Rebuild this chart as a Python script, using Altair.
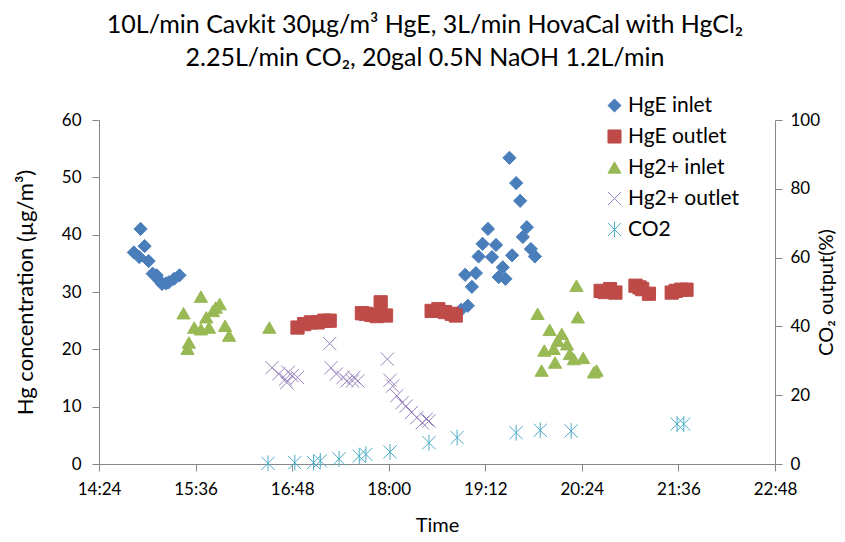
import altair as alt
import pandas as pd

# ---- data ----
names = ["HgE inlet", "HgE outlet", "Hg2+ inlet", "Hg2+ outlet", "CO2"]

hge_in_time = ["14:50", "14:54", "14:55", "14:58", "15:01", "15:04", "15:07", "15:09", "15:11",
               "15:14", "15:16", "15:20", "15:24",
               "18:54", "18:57", "18:59", "19:02", "19:05", "19:07", "19:10", "19:14", "19:17",
               "19:20", "19:22", "19:25", "19:27", "19:30", "19:32", "19:35", "19:38", "19:40",
               "19:43", "19:46", "19:49"]
hge_in_val = [36.9, 36.1, 41.0, 38.0, 35.4, 33.2, 32.9, 32.0, 31.4, 31.5, 31.7, 32.3, 32.9,
              26.9, 33.0, 27.6, 30.9, 33.3, 36.2, 38.4, 41.0, 36.1, 38.2, 32.6, 34.3, 32.3,
              53.4, 36.4, 49.0, 45.9, 39.6, 41.3, 37.5, 36.2]

hge_out_time = ["16:52", "16:57", "17:02", "17:07", "17:12", "17:16",
                "17:40", "17:43", "17:47", "17:51", "17:54", "17:58",
                "18:32", "18:37", "18:42", "18:47", "18:50",
                "20:38", "20:41", "20:45", "20:49",
                "21:04", "21:07", "21:09", "21:14",
                "21:31", "21:34", "21:38", "21:42"]
hge_out_val = [23.8, 24.4, 24.7, 24.7, 25.0, 25.0,
               26.3, 26.2, 26.0, 25.8, 28.2, 25.9,
               26.7, 27.0, 26.5, 26.2, 25.9,
               30.2, 30.0, 30.5, 29.9,
               31.1, 30.8, 30.5, 29.7,
               29.9, 30.2, 30.4, 30.4]

hg2_in_time = ["15:27", "15:30", "15:31", "15:35", "15:40", "15:40", "15:44", "15:46", "15:49",
               "15:51", "15:54", "15:58", "16:01", "16:31",
               "19:51", "19:54", "19:56", "20:00", "20:03", "20:04", "20:06", "20:09", "20:13",
               "20:15", "20:18", "20:20", "20:21", "20:25", "20:33", "20:35"]
hg2_in_val = [26.3, 20.1, 21.2, 23.8, 29.2, 23.5, 25.6, 23.8, 26.7, 27.3, 27.9, 24.1, 22.4, 23.8,
              26.2, 16.3, 19.8, 23.4, 20.1, 17.7, 21.5, 22.7, 20.9, 19.2, 18.3, 31.1, 25.6, 18.5,
              16.0, 16.3]

hg2_out_time = ["16:33", "16:38", "16:43", "16:44", "16:45", "16:48", "16:52",
                "17:16", "17:17", "17:21", "17:26", "17:29", "17:33", "17:34", "17:37",
                "17:59", "18:01", "18:03", "18:06", "18:10", "18:13", "18:17", "18:21", "18:25",
                "18:28", "18:30"]
hg2_out_val = [16.8, 15.7, 14.8, 14.2, 16.0, 15.4, 15.1,
               21.0, 16.8, 15.7, 15.1, 14.5, 14.5, 15.1, 14.5,
               18.3, 14.6, 13.6, 11.9, 10.7, 10.1, 9.0, 8.1, 7.2, 7.8, 7.5]

co2_time = ["16:30", "16:50", "17:04", "17:09", "17:23", "17:38", "17:43", "18:01", "18:30",
            "18:51", "19:35", "19:53", "20:16", "21:35", "21:40"]
co2_val = [0.2, 0.4, 0.4, 0.9, 1.5, 2.3, 2.8, 3.5, 6.2, 7.7, 9.1, 9.8, 9.6, 11.6, 11.6]

x_tick_labels = ["14:24", "15:36", "16:48", "18:00", "19:12", "20:24", "21:36", "22:48"]
left_ticks = [0, 10, 20, 30, 40, 50, 60]
right_ticks = [0, 20, 40, 60, 80, 100]


def to_min(s):
    h, m = s.split(":")
    return int(h) * 60 + int(m)


rows = []
for name, ts, vs in [(names[0], hge_in_time, hge_in_val), (names[1], hge_out_time, hge_out_val),
                     (names[2], hg2_in_time, hg2_in_val), (names[3], hg2_out_time, hg2_out_val),
                     (names[4], co2_time, co2_val)]:
    for t, v in zip(ts, vs):
        rows.append({"s": name, "t": to_min(t), "v": v})
df = pd.DataFrame(rows)
hg = df[df.s != "CO2"]
co2 = df[df.s == "CO2"]

x_vals = [to_min(s) for s in x_tick_labels]

# ---- styles ----
FONT = "Lato"
BLUE, RED, GREEN, PURPLE, CYAN = "#4A7EBB", "#BE4B48", "#98B954", "#9883BE", "#4BACC6"
X_PATH = "M-1,-1L1,1M-1,1L1,-1"
AST_PATH = "M-1,-1L1,1M-1,1L1,-1M0,-1.2L0,1.2"
shapes = ["diamond", "square", "triangle-up", X_PATH, AST_PATH]
fills = [BLUE, RED, GREEN, "transparent", "transparent"]
strokes = [BLUE, RED, GREEN, PURPLE, CYAN]
AX = "#868686"

leg = alt.Legend(title=None, orient="none", legendX=505, legendY=-25, labelFont=FONT,
                 labelFontSize=21, labelColor="#000000", symbolSize=170, symbolStrokeWidth=1,
                 rowPadding=9, labelOffset=3, padding=0)

fill_enc = alt.Fill("s:N", scale=alt.Scale(domain=names, range=fills), legend=leg)
stroke_enc = alt.Stroke("s:N", scale=alt.Scale(domain=names, range=strokes), legend=leg)
shape_enc = alt.Shape("s:N", scale=alt.Scale(domain=names, range=shapes), legend=leg)

label_expr = "floor(datum.value/60) + ':' + (datum.value % 60 < 10 ? '0' : '') + (datum.value % 60)"

x_enc = alt.X("t:Q", scale=alt.Scale(domain=[x_vals[0], x_vals[-1]], nice=False, zero=False),
              axis=alt.Axis(values=x_vals, labelExpr=label_expr, title="Time", grid=False,
                            labelFlush=False, labelPadding=10, titleFontSize=20,
                            titleX=338, titleY=61, titleBaseline="middle", titleAlign="center"))

common_axis = dict(grid=False, domainColor=AX, tickColor=AX, tickSize=7, labelFont=FONT,
                   labelFontSize=17, labelColor="#000000", titleFont=FONT,
                   titleFontWeight="normal", titleColor="#000000")

hg_layer = alt.Chart(hg).mark_point(opacity=1, strokeWidth=1, size=175).encode(
    x=x_enc,
    y=alt.Y("v:Q", scale=alt.Scale(domain=[0, 60], nice=False),
            axis=alt.Axis(values=left_ticks, title="Hg concentration (µg/m³)", orient="left",
                          titleAngle=270, titleX=-74, titleY=172, titleBaseline="middle",
                          titleAlign="center", labelPadding=11, titleFontSize=22)),
    fill=fill_enc, stroke=stroke_enc, shape=shape_enc,
)

co2_layer = alt.Chart(co2).mark_point(opacity=1, strokeWidth=1, size=175).encode(
    x=x_enc,
    y=alt.Y("v:Q", scale=alt.Scale(domain=[0, 100], nice=False),
            axis=alt.Axis(values=right_ticks, title="CO₂ output(%)", orient="right",
                          titleAngle=270, titleX=51, titleY=172, titleBaseline="middle",
                          titleAlign="center", labelPadding=8, titleFontSize=20)),
    fill=fill_enc, stroke=stroke_enc, shape=shape_enc,
)

chart = alt.layer(hg_layer, co2_layer).resolve_scale(y="independent").properties(
    width=676, height=344,
    autosize=alt.AutoSizeParams(type="none"),
    padding={"left": 91, "top": 112, "right": 62, "bottom": 70},
    title=alt.Title(["10L/min Cavkit 30μg/m³ HgE, 3L/min HovaCal with HgCl₂",
                     "2.25L/min CO₂, 20gal 0.5N NaOH 1.2L/min"],
                    font=FONT, fontSize=25, fontWeight="normal", color="#000000",
                    anchor="middle", frame="group", dx=-12, offset=24, lineHeight=33),
).configure_view(stroke=None).configure_axis(**common_axis)

chart.save("out.html", embed_options={"renderer": "svg", "actions": False})
